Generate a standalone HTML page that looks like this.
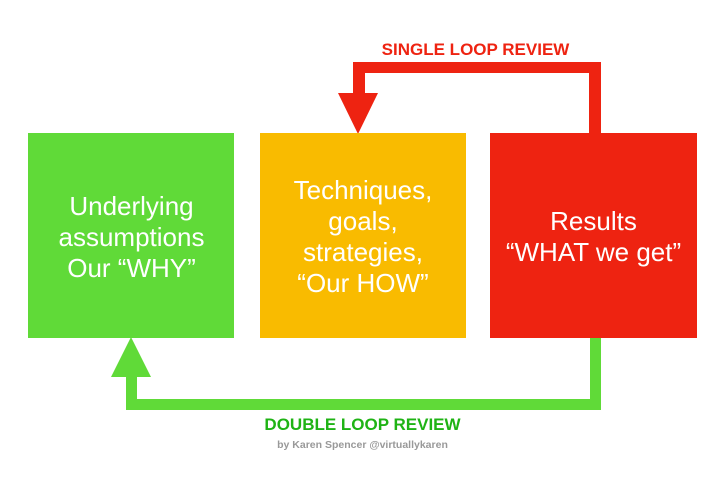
<!DOCTYPE html>
<html>
<head>
<meta charset="utf-8">
<style>
  html, body { margin: 0; padding: 0; background: #ffffff; }
  body { width: 723px; height: 485px; overflow: hidden; }
  svg { display: block; }
  text { font-family: "Liberation Sans", Arial, Helvetica, sans-serif; }
</style>
</head>
<body>
<svg width="723" height="485" viewBox="0 0 723 485" xmlns="http://www.w3.org/2000/svg">
  <rect x="0" y="0" width="723" height="485" fill="#ffffff"/>

  <!-- Red single loop connector -->
  <rect x="589" y="62" width="12" height="72" fill="#ee2311"/>
  <rect x="353" y="62" width="248" height="11" fill="#ee2311"/>
  <rect x="353" y="62" width="12" height="32" fill="#ee2311"/>
  <polygon points="338,93 378,93 358,134" fill="#ee2311"/>

  <!-- Green double loop connector -->
  <rect x="590" y="337" width="11" height="73" fill="#60da38"/>
  <rect x="126" y="399" width="475" height="11" fill="#60da38"/>
  <rect x="126" y="376" width="11" height="34" fill="#60da38"/>
  <polygon points="111,377 151,377 131,337" fill="#60da38"/>

  <!-- Boxes -->
  <rect x="28" y="133" width="206" height="205" fill="#60da38"/>
  <rect x="260" y="133" width="206" height="205" fill="#f9bb00"/>
  <rect x="490" y="133" width="207" height="205" fill="#ee2311"/>

  <!-- Box texts -->
  <g fill="#ffffff" font-size="26" text-anchor="middle">
    <text x="131.5" y="215">Underlying</text>
    <text x="131.5" y="246">assumptions</text>
    <text x="131.5" y="277">Our “WHY”</text>

    <text x="363" y="199">Techniques,</text>
    <text x="363" y="230">goals,</text>
    <text x="363" y="261">strategies,</text>
    <text x="363" y="292">“Our HOW”</text>

    <text x="593.5" y="230">Results</text>
    <text x="593.5" y="261">“WHAT we get”</text>
  </g>

  <!-- Labels -->
  <text x="475.5" y="55" font-size="17" font-weight="bold" fill="#ee2311" text-anchor="middle">SINGLE LOOP REVIEW</text>
  <text x="362.5" y="430" font-size="17" font-weight="bold" fill="#1fb315" text-anchor="middle">DOUBLE LOOP REVIEW</text>
  <text x="362.5" y="448" font-size="10.5" font-weight="bold" fill="#999999" text-anchor="middle">by Karen Spencer @virtuallykaren</text>
</svg>
</body>
</html>
